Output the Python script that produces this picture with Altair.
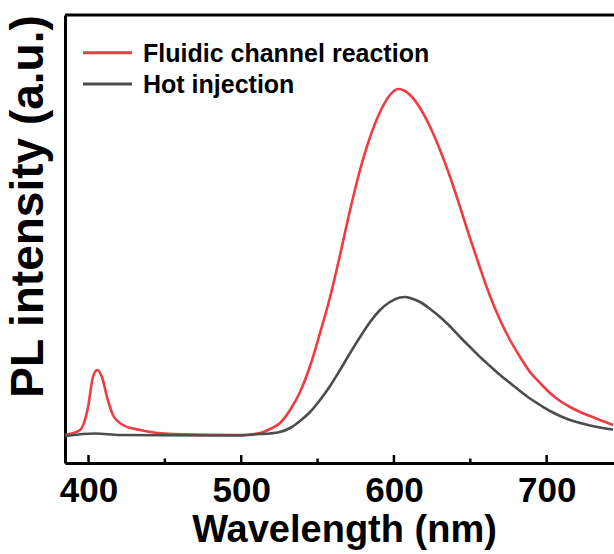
import altair as alt
import pandas as pd

# Fluidic channel reaction (red)
red_wl = [384.6, 394.4, 399.7, 402.9, 405.6, 408.8, 412.1, 416.0, 422.6, 433.7, 455.3, 499.2,
          512.3, 518.9, 525.4, 532.0, 538.5, 545.1, 551.6, 558.2, 564.7, 571.3, 577.8, 584.4,
          590.9, 597.4, 602.7, 610.6, 617.1, 623.7, 630.2, 636.8, 643.3, 649.8, 656.4, 662.9,
          669.5, 676.0, 682.6, 689.1, 695.7, 702.2, 708.8, 715.3, 721.9, 728.4, 734.9, 743.5]
red_v = [28, 33, 56, 86, 93, 86, 66, 48, 38, 33, 29, 28,
         30, 34, 40, 53, 71, 97, 130, 166, 208, 253, 293, 326,
         351, 368, 374, 368, 355, 336, 313, 286, 256, 225, 195, 167,
         143, 123, 106, 91, 80, 70, 62, 56, 51, 47, 43, 38]

# Hot injection (gray)
gray_wl = [384.6, 404.3, 420.6, 499.2, 512.3, 518.9, 525.4, 532.0, 538.5, 545.1, 551.6, 558.2,
           564.7, 571.3, 577.8, 584.4, 590.9, 597.4, 604.0, 607.3, 610.6, 617.1, 623.7, 630.2,
           636.8, 643.3, 649.8, 656.4, 662.9, 669.5, 676.0, 682.6, 689.1, 695.7, 702.2, 708.8,
           715.3, 721.9, 728.4, 734.9, 743.5]
gray_v = [27, 29.5, 28, 27.5, 29, 29.5, 31, 35, 42, 51, 63, 77,
          93, 110, 126, 141, 153, 161, 165.5, 166, 165, 161, 154, 146,
          136.5, 126, 116, 106, 97, 88, 80, 72, 64.5, 58, 52, 47,
          43, 40, 37.5, 35.5, 33.5]

series_names = ["Fluidic channel reaction", "Hot injection"]
series_colors = ["#EF3B41", "#4D4D4D"]

major_ticks = [400, 500, 600, 700]
minor_ticks = [450, 550, 650]

W, H = 549, 448
FONT = "Liberation Sans"

df = pd.concat([
    pd.DataFrame({"wl": red_wl, "v": red_v, "s": series_names[0]}),
    pd.DataFrame({"wl": gray_wl, "v": gray_v, "s": series_names[1]}),
])

xscale = alt.Scale(domain=[384.6, 744.1], nice=False, zero=False)
yscale = alt.Scale(domain=[0, 448], nice=False, zero=False)

lines = alt.Chart(df).mark_line(strokeWidth=2.6, interpolate="monotone", clip=True).encode(
    x=alt.X("wl:Q", scale=xscale,
            axis=alt.Axis(values=major_ticks, format="d", title="Wavelength (nm)",
                          ticks=False, grid=False, domainColor="black", domainWidth=3,
                          labelFont=FONT, labelFontSize=35, labelFontWeight="bold",
                          labelColor="black", labelPadding=10,
                          titleFont=FONT, titleFontSize=38, titleFontWeight="bold",
                          titleColor="black", titlePadding=3, titleX=279)),
    y=alt.Y("v:Q", scale=yscale,
            axis=alt.Axis(labels=False, ticks=False, grid=False, domainColor="black",
                          domainWidth=3, title="PL intensity (a.u.)",
                          titleFont=FONT, titleFontSize=46, titleFontWeight="bold",
                          titleColor="black", titlePadding=13, titleY=191)),
    color=alt.Color("s:N", scale=alt.Scale(domain=series_names, range=series_colors), legend=None),
    order=alt.Order("s:N", sort="descending"),
)

maj = alt.Chart(pd.DataFrame({"t": major_ticks})).mark_rule(strokeWidth=2.5, color="black").encode(
    x=alt.X("t:Q", scale=xscale), y=alt.value(H - 8), y2=alt.value(H))
mnr = alt.Chart(pd.DataFrame({"t": minor_ticks})).mark_rule(strokeWidth=2.5, color="black").encode(
    x=alt.X("t:Q", scale=xscale), y=alt.value(H - 4.5), y2=alt.value(H))

top = alt.Chart(pd.DataFrame({"a": [0]})).mark_rule(strokeWidth=3, color="black").encode(
    x=alt.value(0), x2=alt.value(W), y=alt.value(0))

leg_layers = []
for i, (name, col) in enumerate(zip(series_names, series_colors)):
    yy = 37.7 + i * 31.3
    d = pd.DataFrame({"label": [name]})
    leg_layers.append(alt.Chart(d).mark_rule(strokeWidth=3, color=col).encode(
        x=alt.value(18), x2=alt.value(67), y=alt.value(yy)))
    leg_layers.append(alt.Chart(d).mark_text(align="left", baseline="middle", font=FONT,
                                             fontSize=25, fontWeight="bold", color="black",
                                             dy=1).encode(
        x=alt.value(78), y=alt.value(yy), text="label:N"))

chart = alt.layer(lines, maj, mnr, top, *leg_layers).properties(
    width=W, height=H,
    padding={"left": 65, "top": 15, "right": 0, "bottom": 91},
    autosize=alt.AutoSizeParams(type="none"),
).configure_view(stroke=None).configure(background="white")

chart.save("out.html", embed_options={"renderer": "svg", "actions": False})
